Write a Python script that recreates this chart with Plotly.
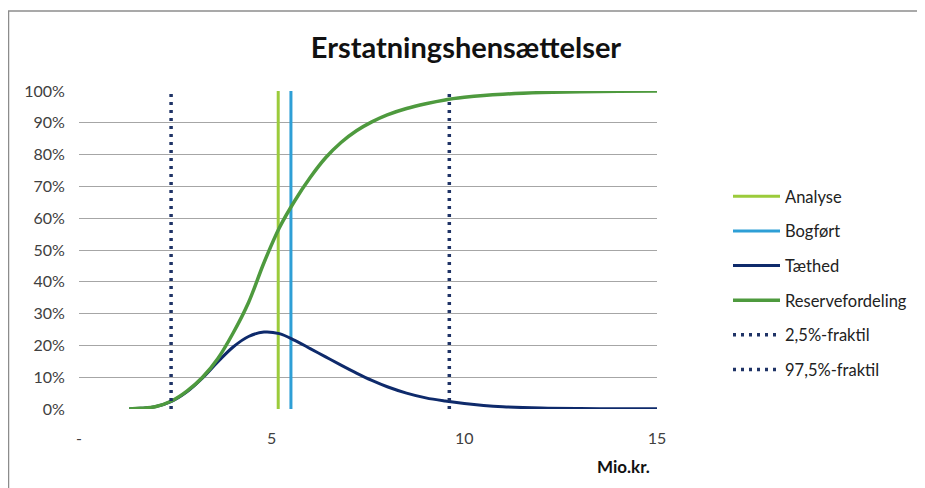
import plotly.graph_objects as go

# Data
x_vals = [1.3, 1.6, 2.0, 2.4, 2.8, 3.2, 3.6, 4.0, 4.4, 4.8, 5.2, 5.6, 6.0, 6.4, 6.8, 7.2,
          7.6, 8.0, 8.5, 9.0, 9.5, 10.0, 10.5, 11.0, 12.0, 13.0, 14.0, 15.0]
reserve_cdf = [0.0, 0.002, 0.008, 0.025, 0.056, 0.099, 0.158, 0.239, 0.335, 0.46, 0.57, 0.655,
               0.728, 0.79, 0.838, 0.875, 0.903, 0.925, 0.945, 0.960, 0.972, 0.980, 0.986,
               0.99, 0.995, 0.998, 0.999, 1.0]
density = [0.0, 0.002, 0.008, 0.024, 0.054, 0.097, 0.148, 0.195, 0.228, 0.242, 0.237, 0.216,
           0.19, 0.164, 0.138, 0.113, 0.09, 0.07, 0.05, 0.035, 0.025, 0.017, 0.011,
           0.007, 0.003, 0.0015, 0.001, 0.0008]
analyse_x = 5.17
bogfoert_x = 5.5
frak_025_x = 2.39
frak_975_x = 9.61
x_ticks = [0, 5, 10, 15]
x_ticklabels = ["-", "5", "10", "15"]
y_ticks = [0, 0.1, 0.2, 0.3, 0.4, 0.5, 0.6, 0.7, 0.8, 0.9, 1.0]

FONT = "Lato, 'Open Sans', sans-serif"

fig = go.Figure()

def vline(name, xv, color, dash="solid", width=3):
    fig.add_trace(go.Scatter(x=[xv, xv], y=[0, 1], mode="lines", name=name,
                             line=dict(color=color, width=width, dash=dash),
                             legendgroup=name, hoverinfo="skip"))

vline("Analyse", analyse_x, "#9BCB3B")
vline("Bogført", bogfoert_x, "#2E9FD6")
fig.add_trace(go.Scatter(x=x_vals, y=density, mode="lines", name="Tæthed",
                         line=dict(color="#0E2A6B", width=3, shape="spline", smoothing=1.0),
                         legendgroup="Tæthed"))
fig.add_trace(go.Scatter(x=x_vals, y=reserve_cdf, mode="lines", name="Reservefordeling",
                         line=dict(color="#4E9A3E", width=3.5, shape="spline", smoothing=1.0),
                         legendgroup="Reservefordeling"))
vline("2,5%-fraktil", frak_025_x, "#1F3366", dash="3px,5px", width=3.5)
vline("97,5%-fraktil", frak_975_x, "#1F3366", dash="3px,5px", width=3.5)

# The page adds an 8px body margin; work in reference page pixels and shift.
OFF = 8
W, H = 925 - OFF, 488 - OFF
L, T = 79 - OFF, 91 - OFF
R = W - (657 - OFF)
B = H - (409 - OFF)
pw, ph = W - L - R, H - T - B

def px2x(px):
    return (px - OFF - L) / pw

def px2y(py):
    return (H - B - (py - OFF)) / ph

fig.update_layout(
    width=W, height=H,
    margin=dict(l=L, r=R, t=T, b=B),
    paper_bgcolor="white", plot_bgcolor="white",
    font=dict(family=FONT, color="#404040", size=16),
    title=dict(text="<b>Erstatningshensættelser</b>", xref="container", yref="container",
               x=(466 - OFF) / W, xanchor="center", y=1 - (48 - OFF) / H, yanchor="middle",
               font=dict(family=FONT, size=29, color="#111111")),
    showlegend=True,
    legend=dict(x=px2x(728), y=px2y(179), xanchor="left", yanchor="top",
                font=dict(family=FONT, size=16.5, color="#222222"),
                tracegroupgap=10.2, itemwidth=47, bgcolor="rgba(0,0,0,0)"),
    xaxis=dict(range=[0, 15], tickvals=x_ticks, ticktext=x_ticklabels,
               showgrid=False, zeroline=False, showline=False,
               ticks="outside", ticklen=0, ticklabelstandoff=15,
               tickfont=dict(size=16, color="#404040")),
    yaxis=dict(range=[0, 1], tickvals=y_ticks, tickformat=".0%",
               showgrid=True, gridcolor="#A6A6A6", gridwidth=1,
               zeroline=False, showline=False, ticks="outside", ticklen=0,
               ticklabelstandoff=10, tickfont=dict(size=16, color="#404040")),
    annotations=[dict(text="<b>Mio.kr.</b>", xref="paper", yref="paper",
                      x=px2x(652), y=px2y(466), xanchor="right", yanchor="middle",
                      showarrow=False, font=dict(family=FONT, size=17, color="#111111"))],
    shapes=[
        dict(type="line", xref="paper", yref="paper", x0=px2x(8), x1=px2x(925),
             y0=px2y(11), y1=px2y(11), line=dict(color="#8C8C8C", width=1.5)),
        dict(type="line", xref="paper", yref="paper", x0=px2x(8.5), x1=px2x(8.5),
             y0=px2y(11), y1=px2y(488), line=dict(color="#8C8C8C", width=1.5)),
    ],
)

fig.write_html("out.html")
